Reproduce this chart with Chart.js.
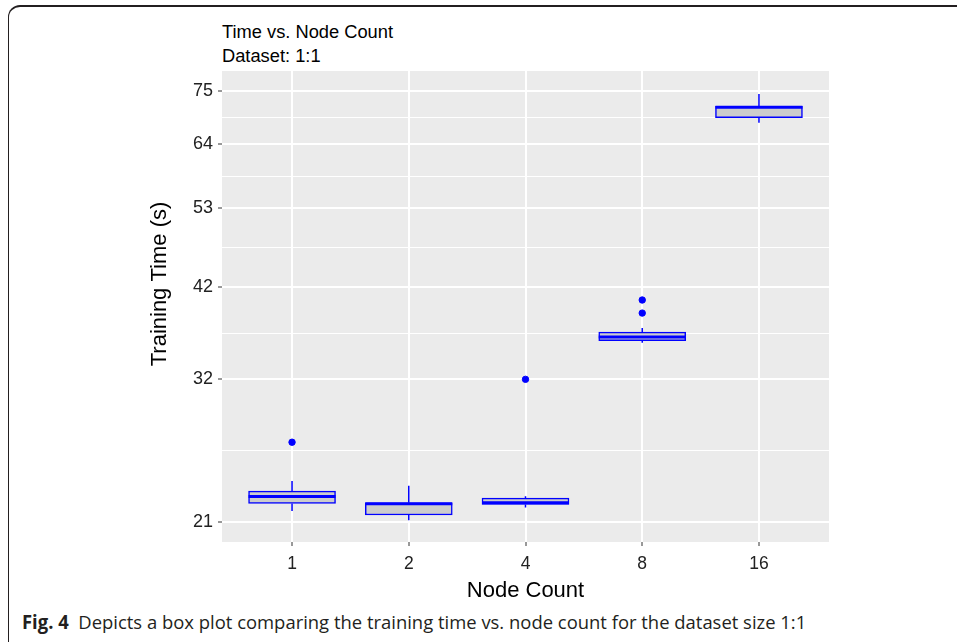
<!DOCTYPE html>
<html>
<head>
<meta charset="utf-8">
<script src="https://cdn.jsdelivr.net/npm/chart.js@4.4.1/dist/chart.umd.min.js"></script>
<style>
  body { margin: 0; background: #fff; width: 957px; height: 642px; overflow: hidden; position: relative; }
  #frame { position: absolute; left: 8px; top: 5px; width: 1000px; height: 650px;
           border-top: 2px solid #231f20; border-left: 1.5px solid #231f20; border-top-left-radius: 12px; border-bottom-left-radius: 12px; }
  #wrap { position: absolute; left: 0; top: 0; width: 957px; height: 608px; }
  .ttl { position: absolute; left: 222px; font-family: "Liberation Sans", Arial, sans-serif; font-size: 18.3px; color: #000; }
  #caption { position: absolute; left: 22px; top: 609px; font-family: "Open Sans", sans-serif; font-size: 19px;
             color: #231f20; white-space: nowrap; transform-origin: left center; transform: scaleX(0.97); }
</style>
</head>
<body>
<div id="frame"></div>
<div class="ttl" style="top:21px">Time vs. Node Count</div>
<div class="ttl" style="top:45px">Dataset: 1:1</div>
<div id="wrap"><canvas id="myChart"></canvas></div>
<div id="caption"><b>Fig. 4</b>&nbsp; Depicts a box plot comparing the training time vs. node count for the dataset size 1:1</div>
<script>
// categorias (node count)
const nodeCounts = ['1', '2', '4', '8', '16'];

// estadisticos del boxplot (segundos)
const bigoteBajo = [21.69, 21.12, 21.93, 35.65, 68.25];
const q1 = [22.19, 21.44, 22.12, 35.86, 69.27];
const mediana = [22.65, 22.17, 22.23, 36.25, 71.4];
const q3 = [23.01, 22.23, 22.54, 36.79, 71.6];
const bigoteAlto = [23.70, 23.37, 22.67, 37.23, 74.30];

// outliers: [indice de categoria, valor]
const outliers = [[0, 26.58], [2, 32.0], [3, 40.44], [3, 38.91]];

// ticks eje y (escala log)
const yTicks = [21, 32, 42, 53, 64, 75];
const yMinor = [];
for (let i = 0; i < yTicks.length - 1; i++) {
    yMinor.push(Math.sqrt(yTicks[i] * yTicks[i + 1]));
}

const azul = '#0000ff';
const fuente = "'Liberation Sans', Arial, sans-serif";
Chart.defaults.font.family = fuente;

// fondo gris del panel
const fondoPanel = {
    id: 'fondoPanel',
    beforeDraw(chart) {
        const { ctx, chartArea } = chart;
        ctx.save();
        ctx.fillStyle = '#ebebeb';
        ctx.fillRect(chartArea.left, chartArea.top, chartArea.right - chartArea.left, chartArea.bottom - chartArea.top);
        ctx.restore();
    }
};

// bigotes y medianas
const bigotes = {
    id: 'bigotes',
    afterDatasetsDraw(chart) {
        const ctx = chart.ctx;
        const x = chart.scales.x;
        const y = chart.scales.y;
        const meta = chart.getDatasetMeta(0);
        ctx.save();
        ctx.strokeStyle = azul;
        nodeCounts.forEach((n, i) => {
            const px = x.getPixelForValue(i);
            ctx.lineWidth = 1.5;
            ctx.beginPath();
            ctx.moveTo(px, y.getPixelForValue(bigoteAlto[i]));
            ctx.lineTo(px, y.getPixelForValue(q3[i]));
            ctx.moveTo(px, y.getPixelForValue(q1[i]));
            ctx.lineTo(px, y.getPixelForValue(bigoteBajo[i]));
            ctx.stroke();
            const bar = meta.data[i];
            const half = bar.width / 2;
            ctx.lineWidth = 3;
            ctx.beginPath();
            ctx.moveTo(px - half, y.getPixelForValue(mediana[i]));
            ctx.lineTo(px + half, y.getPixelForValue(mediana[i]));
            ctx.stroke();
        });
        ctx.restore();
    }
};

// titulo eje y (ggplot lo deja un poco mas arriba)
const tituloY = {
    id: 'tituloY',
    afterDraw(chart) {
        const ctx = chart.ctx;
        ctx.save();
        ctx.translate(160, 284);
        ctx.rotate(-Math.PI / 2);
        ctx.font = '22px ' + fuente;
        ctx.fillStyle = '#000';
        ctx.textAlign = 'center';
        ctx.textBaseline = 'middle';
        ctx.fillText('Training Time (s)', 0, 0);
        ctx.restore();
    }
};

const config = {
    data: {
        datasets: [
            {
                type: 'bar',
                data: nodeCounts.map((n, i) => ({ x: i, y: [q1[i], q3[i]] })),
                backgroundColor: '#cccccc',
                borderColor: azul,
                borderWidth: 1.5,
                borderSkipped: false,
                barThickness: 87,
                order: 2
            },
            {
                type: 'scatter',
                data: outliers.map(o => ({ x: o[0], y: o[1] })),
                backgroundColor: azul,
                borderColor: azul,
                pointRadius: 3.2,
                order: 1
            }
        ]
    },
    options: {
        responsive: true,
        maintainAspectRatio: false,
        animation: false,
        layout: { padding: { left: 140, right: 128, top: 71, bottom: 0 } },
        plugins: { legend: { display: false }, tooltip: { enabled: false } },
        scales: {
            x: {
                type: 'linear',
                min: -0.6,
                max: 4.6,
                offset: false,
                afterBuildTicks: (scale) => { scale.ticks = nodeCounts.map((n, i) => ({ value: i })); },
                afterFit: (scale) => { scale.height = 66; },
                ticks: {
                    callback: (v) => nodeCounts[v],
                    color: '#222',
                    font: { family: fuente, size: 17.5 },
                    padding: 8
                },
                grid: { offset: false, color: '#ffffff', lineWidth: 2, tickLength: 4, tickColor: '#333', tickWidth: 1 },
                border: { display: false },
                title: {
                    display: true,
                    text: 'Node Count',
                    color: '#000',
                    font: { family: fuente, size: 22 },
                    padding: { top: 9 }
                }
            },
            y: {
                type: 'logarithmic',
                min: 19.80,
                max: 79.49,
                afterBuildTicks: (scale) => {
                    const t = yTicks.map(v => ({ value: v, major: true }));
                    yMinor.forEach(v => t.push({ value: v, major: false }));
                    t.sort((a, b) => a.value - b.value);
                    scale.ticks = t;
                },
                afterFit: (scale) => { scale.width = 82; },
                ticks: {
                    callback: (v) => yTicks.includes(v) ? String(v) : '',
                    color: '#222',
                    font: { family: fuente, size: 18 },
                    padding: 5,
                    autoSkip: false
                },
                grid: {
                    color: '#ffffff',
                    lineWidth: (c) => c.tick && yTicks.includes(c.tick.value) ? 2 : 1,
                    tickLength: 4,
                    tickColor: (c) => c.tick && yTicks.includes(c.tick.value) ? '#333' : 'rgba(0,0,0,0)',
                    tickWidth: 1
                },
                border: { display: false },
                title: { display: false }
            }
        }
    },
    plugins: [fondoPanel, bigotes, tituloY]
};

new Chart(document.getElementById('myChart'), config);
</script>
</body>
</html>
